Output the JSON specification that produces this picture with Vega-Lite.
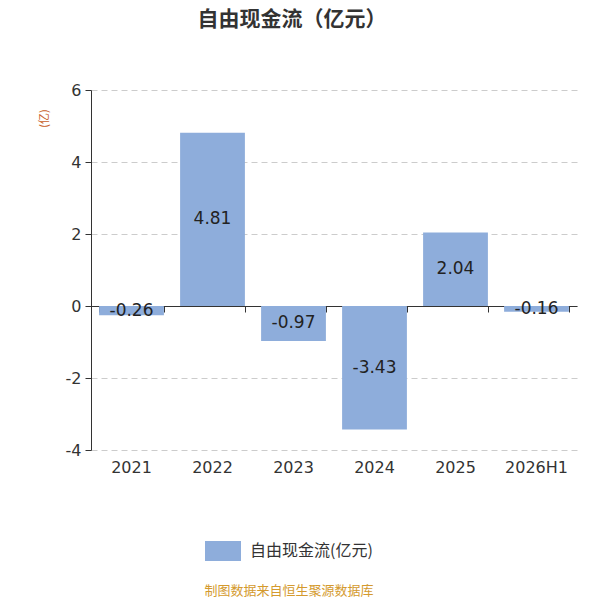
{
  "$schema": "https://vega.github.io/schema/vega-lite/v6.json",
  "autosize": {"type": "none"},
  "width": 486,
  "height": 360,
  "padding": {"left": 91, "top": 90, "right": 23, "bottom": 150},
  "background": "#ffffff",
  "title": {
    "text": "自由现金流（亿元）",
    "font": "Noto Sans CJK SC",
    "fontSize": 21,
    "fontWeight": "bold",
    "color": "#333333",
    "anchor": "middle",
    "dx": -42,
    "offset": 52
  },
  "config": {
    "view": {"stroke": null},
    "font": "Noto Sans CJK SC"
  },
  "data": {
    "values": [
      {"year": "2021", "value": -0.26, "series": "自由现金流(亿元)"},
      {"year": "2022", "value": 4.81, "series": "自由现金流(亿元)"},
      {"year": "2023", "value": -0.97, "series": "自由现金流(亿元)"},
      {"year": "2024", "value": -3.43, "series": "自由现金流(亿元)"},
      {"year": "2025", "value": 2.04, "series": "自由现金流(亿元)"},
      {"year": "2026H1", "value": -0.16, "series": "自由现金流(亿元)"}
    ]
  },
  "resolve": {"axis": {"x": "independent"}},
  "layer": [
    {
      "mark": {"type": "bar"},
      "encoding": {
        "x": {
          "field": "year",
          "type": "nominal",
          "sort": null,
          "scale": {"paddingInner": 0.2, "paddingOuter": 0.1},
          "axis": {
            "title": null,
            "orient": "bottom",
            "offset": -144,
            "labels": false,
            "ticks": true,
            "tickBand": "extent",
            "tickSize": 6,
            "tickColor": "#333333",
            "domainColor": "#333333",
            "grid": false
          }
        },
        "y": {
          "field": "value",
          "type": "quantitative",
          "scale": {"domain": [-4, 6], "nice": false, "zero": false},
          "axis": {
            "title": "(亿)",
            "titleColor": "#c8602a",
            "titleFontSize": 11,
            "titleFontWeight": "normal",
            "titleX": -47,
            "titleY": 28,
            "titleAlign": "center",
            "titleBaseline": "middle",
            "titleAngle": -90,
            "values": [-4, -2, 0, 2, 4, 6],
            "labelExpr": "'' + datum.value",
            "labelFontSize": 16,
            "labelColor": "#333333",
            "labelFont": "DejaVu Sans",
            "labelPadding": 4,
            "tickSize": 6,
            "tickColor": "#333333",
            "domainColor": "#333333",
            "gridColor": "#cccccc",
            "gridDash": [6, 4]
          }
        },
        "color": {
          "field": "series",
          "type": "nominal",
          "scale": {"range": ["#8eaddb"]},
          "legend": {
            "orient": "none",
            "legendX": 113,
            "legendY": 443,
            "direction": "horizontal",
            "symbolType": "M-1,-0.55H1V0.55H-1Z",
            "symbolSize": 1296,
            "symbolStrokeWidth": 0,
            "symbolOpacity": 1,
            "labelFontSize": 16,
            "labelColor": "#333333",
            "labelOffset": 9,
            "title": "制图数据来自恒生聚源数据库",
            "titleOrient": "bottom",
            "titleAnchor": "middle",
            "titleColor": "#d49a2e",
            "titleFontSize": 13,
            "titleFontWeight": "normal",
            "titlePadding": 24
          }
        }
      }
    },
    {
      "mark": {"type": "text", "fontSize": 17, "color": "#222222", "font": "DejaVu Sans", "baseline": "middle"},
      "transform": [{"calculate": "datum.value / 2", "as": "mid"}],
      "encoding": {
        "x": {
          "field": "year",
          "type": "nominal",
          "sort": null,
          "axis": {
            "title": null,
            "orient": "bottom",
            "domain": false,
            "ticks": false,
            "labelFontSize": 16,
            "labelColor": "#333333",
            "labelFont": "DejaVu Sans",
            "labelPadding": 9,
            "labelAngle": 0,
            "grid": false
          }
        },
        "y": {"field": "mid", "type": "quantitative"},
        "text": {"field": "value", "type": "nominal"}
      }
    }
  ]
}
